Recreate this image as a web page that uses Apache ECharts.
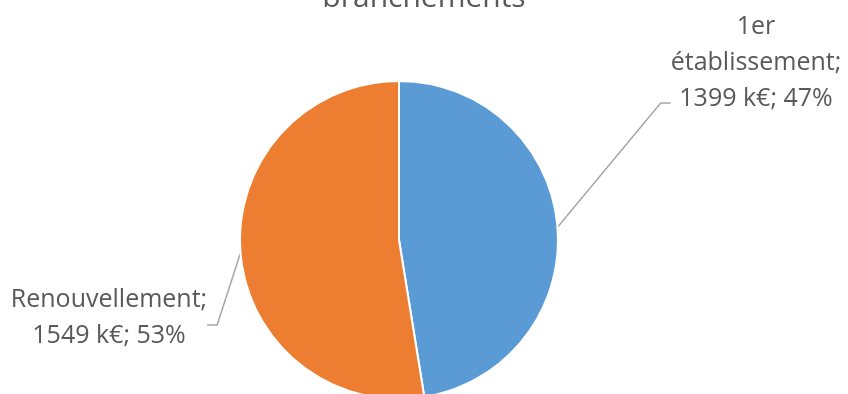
<!DOCTYPE html>
<html>
<head>
<meta charset="utf-8">
<script src="https://cdn.jsdelivr.net/npm/echarts@6/dist/echarts.min.js"></script>
<style>html,body{margin:0;padding:0;background:#fff;}#c{width:848px;height:394px;}</style>
</head>
<body>
<div id="c"></div>
<script>
var categories = ['1er établissement', 'Renouvellement'];
var labelNames = ['1er\nétablissement', 'Renouvellement'];
var values = [1399, 1549];
var colors = ['#5B9BD5', '#ED7D31'];
var titleText = 'branchements';

var chart = echarts.init(document.getElementById('c'), null, {renderer: 'canvas'});
var data = categories.map(function (c, i) {
  return {
    name: c, value: values[i], itemStyle: {color: colors[i]},
    label: {padding: i === 0 ? [0, 0, 80, 0] : [0, 0, 14, 0]}
  };
});
chart.setOption({
  animation: false,
  title: {
    text: titleText, left: 'center', top: -22,
    textStyle: {fontFamily: 'Open Sans', fontSize: 30, fontWeight: 'normal', color: '#595959'}
  },
  series: [{
    type: 'pie',
    center: [399, 240],
    radius: 159,
    startAngle: 90,
    clockwise: true,
    percentPrecision: 0,
    data: data,
    itemStyle: {borderColor: '#fff', borderWidth: 2},
    label: {
      show: true,
      formatter: function (p) {
        return labelNames[p.dataIndex] + ';\n' + p.value + ' k€; ' + p.percent + '%';
      },
      fontFamily: 'Open Sans',
      fontSize: 25,
      lineHeight: 36,
      color: '#595959',
      align: 'center',
      backgroundColor: 'rgba(255,255,255,0)'
    },
    labelLine: {show: true, length2: 10, lineStyle: {color: '#a6a6a6', width: 1.5}},
    labelLayout: function (p) {
      if (p.dataIndex === 0) {
        return {x: 756, y: 9, align: 'center', verticalAlign: 'top'};
      }
      return {x: 109, y: 282, align: 'center', verticalAlign: 'top'};
    }
  }]
});
</script>
</body>
</html>
